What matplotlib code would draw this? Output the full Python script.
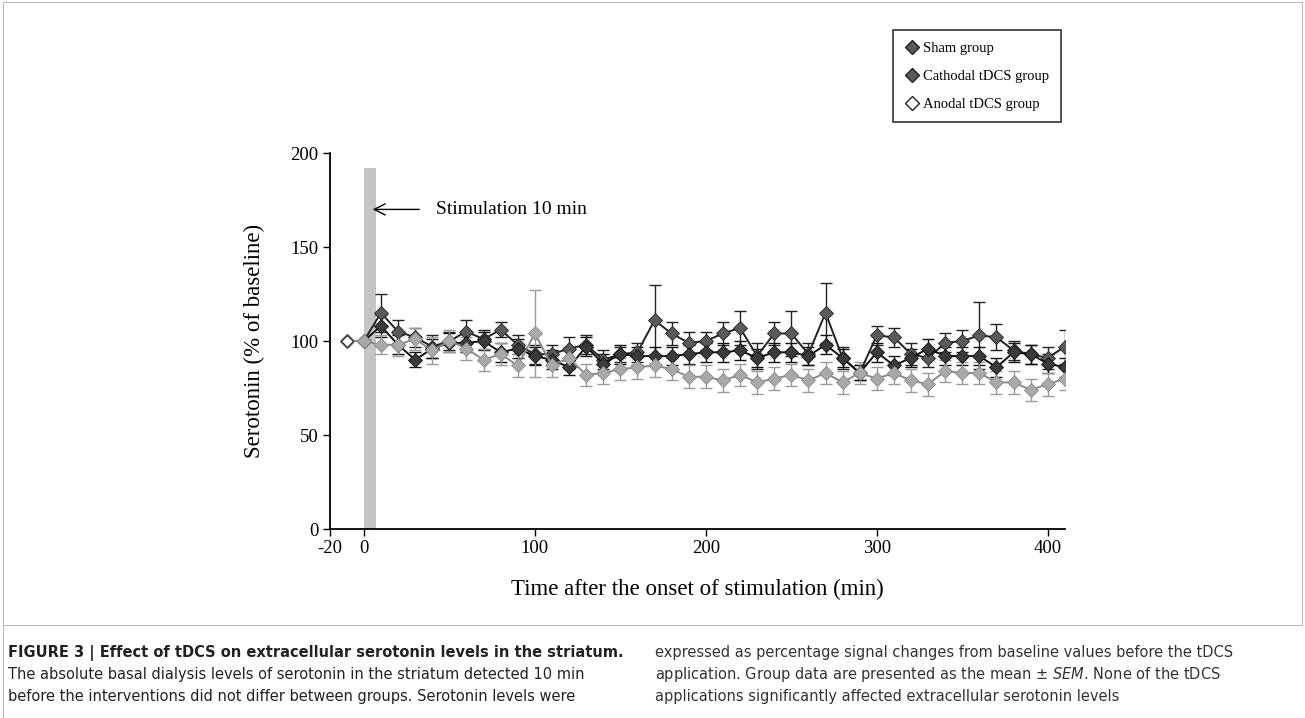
import matplotlib
matplotlib.use("Agg")
import matplotlib.pyplot as plt
from matplotlib.lines import Line2D

plt.rcParams["axes.unicode_minus"] = False

# ---------------- data ----------------
time_min = [-10, 0, 10, 20, 30, 40, 50, 60, 70, 80, 90, 100, 110, 120, 130, 140, 150,
            160, 170, 180, 190, 200, 210, 220, 230, 240, 250, 260, 270, 280, 290, 300,
            310, 320, 330, 340, 350, 360, 370, 380, 390, 400, 410]

sham = [100, 100, 115, 105, 102, 97, 100, 105, 101, 106, 98, 93, 93, 96, 98, 90, 93,
        94, 111, 104, 99, 100, 104, 107, 92, 104, 104, 93, 115, 91, 83, 103,
        102, 93, 91, 99, 100, 103, 102, 95, 93, 91, 97]
sham_sem = [0, 0, 10, 6, 5, 6, 5, 6, 5, 4, 5, 5, 5, 6, 5, 5, 4,
            5, 19, 6, 6, 5, 6, 9, 7, 6, 12, 6, 16, 6, 4, 5,
            5, 6, 5, 5, 6, 18, 7, 5, 5, 6, 9]

cathodal = [100, 100, 108, 98, 90, 96, 99, 99, 100, 94, 96, 92, 90, 86, 97, 88, 93,
            92, 92, 92, 93, 94, 94, 95, 91, 94, 94, 92, 98, 91, 83, 94,
            87, 91, 96, 92, 92, 92, 86, 94, 93, 88, 86]
cathodal_sem = [0, 0, 6, 5, 4, 5, 5, 5, 5, 5, 5, 5, 5, 4, 5, 5, 5,
                5, 5, 5, 5, 5, 5, 5, 5, 5, 5, 5, 5, 5, 4, 5,
                5, 5, 5, 5, 5, 5, 5, 5, 5, 5, 5]

anodal = [100, 100, 98, 98, 101, 95, 100, 96, 90, 93, 87, 104, 87, 91, 82, 83, 85,
          86, 87, 85, 81, 81, 79, 82, 78, 80, 82, 79, 83, 78, 83, 80,
          83, 79, 77, 84, 83, 83, 78, 78, 74, 77, 80]
anodal_sem = [0, 0, 5, 6, 6, 7, 6, 6, 6, 6, 6, 23, 6, 6, 6, 6, 6,
              6, 6, 6, 6, 6, 6, 6, 6, 6, 6, 6, 6, 6, 6, 6,
              6, 6, 6, 6, 6, 6, 6, 6, 6, 6, 6]

series_labels = ["Sham group", "Cathodal tDCS group", "Anodal tDCS group"]
x_ticks = [-20, 0, 100, 200, 300, 400]
y_ticks = [0, 50, 100, 150, 200]

stim_start, stim_end, stim_top = 0, 7, 192
stim_text = "Stimulation 10 min"

caption_left = [
    "FIGURE 3 | Effect of tDCS on extracellular serotonin levels in the striatum.",
    "The absolute basal dialysis levels of serotonin in the striatum detected 10 min",
    "before the interventions did not differ between groups. Serotonin levels were",
]
caption_right = [
    "expressed as percentage signal changes from baseline values before the tDCS",
    "application. Group data are presented as the mean \u00b1 $\\it{SEM}$. None of the tDCS",
    "applications significantly affected extracellular serotonin levels",
]

# ---------------- figure ----------------
serif = ["Liberation Serif", "DejaVu Serif"]
fig = plt.figure(figsize=(13.05, 7.18), dpi=100)
ax = fig.add_axes([0.2526, 0.2632, 0.8160 - 0.2526, 0.7869 - 0.2632])

ax.bar((stim_start + stim_end) / 2, stim_top, width=stim_end - stim_start,
       color="#c4c4c4", edgecolor="none", zorder=1)

styles = [
    (sham, sham_sem, "#5a5a5a", "#222222", "#222222"),
    (cathodal, cathodal_sem, "#3a3a3a", "#111111", "#111111"),
    (anodal, anodal_sem, "#a9a9a9", "#8a8a8a", "#9a9a9a"),
]
for vals, sem, fc, lc, ec in styles:
    ax.errorbar(time_min, vals, yerr=sem, fmt="none", ecolor=ec, elinewidth=1.0,
                capsize=4.5, capthick=1.0, zorder=2)
    ax.plot(time_min, vals, "-", color=lc, lw=1.4, marker="D", markersize=7,
            markerfacecolor=fc, markeredgecolor=lc, markeredgewidth=0.6, zorder=3)
# the first (baseline) point is drawn as an open diamond
ax.plot(time_min[0], anodal[0], marker="D", markersize=6.5, markerfacecolor="white",
        markeredgecolor="#222222", markeredgewidth=0.8, zorder=4)

ax.annotate("", xy=(3.5, 170), xytext=(34, 170),
            arrowprops=dict(arrowstyle="->", color="black", lw=1.0,
                            mutation_scale=20), zorder=5)
ax.text(42, 170, stim_text, fontsize=14, family=serif, va="center", ha="left")

ax.set_xlim(-20, 410)
ax.set_ylim(0, 200)
ax.set_xticks(x_ticks)
ax.set_yticks(y_ticks)
ax.tick_params(labelsize=13.5, length=5, width=1.0, direction="out", pad=3)
for lab in ax.get_xticklabels() + ax.get_yticklabels():
    lab.set_family(serif)
ax.spines["top"].set_visible(False)
ax.spines["right"].set_visible(False)
ax.spines["left"].set_linewidth(1.3)
ax.spines["bottom"].set_linewidth(1.3)
ax.set_ylabel("Serotonin (% of baseline)", fontsize=16.5, family=serif, labelpad=18)
ax.set_xlabel("Time after the onset of stimulation (min)", fontsize=16.5,
              family=serif, labelpad=16)

# legend
handles = [
    Line2D([], [], ls="none", marker="D", markersize=7, markerfacecolor="#5a5a5a",
           markeredgecolor="#222222"),
    Line2D([], [], ls="none", marker="D", markersize=7, markerfacecolor="#5a5a5a",
           markeredgecolor="#222222"),
    Line2D([], [], ls="none", marker="D", markersize=7, markerfacecolor="white",
           markeredgecolor="#222222"),
]
leg = fig.legend(handles, series_labels, loc="upper left",
                 bbox_to_anchor=(0.684, 0.958), frameon=True, fancybox=False,
                 edgecolor="black", prop={"family": serif, "size": 10.5},
                 handletextpad=0.3, labelspacing=1.0, borderpad=0.8,
                 handlelength=1.0, borderaxespad=0)
leg.get_frame().set_linewidth(1.2)

# thin frame lines of the page
fig.add_artist(Line2D([0.002, 0.002], [0.0, 0.997], color="#bbbbbb", lw=0.8))
fig.add_artist(Line2D([0.002, 0.998], [0.997, 0.997], color="#bbbbbb", lw=0.8))
fig.add_artist(Line2D([0.998, 0.998], [0.13, 0.997], color="#bbbbbb", lw=0.8))
fig.add_artist(Line2D([0.002, 0.998], [0.13, 0.13], color="#bbbbbb", lw=0.8))

# caption
cap_font = ["DejaVu Sans"]
ys = [1 - 653 / 718, 1 - 675 / 718, 1 - 697 / 718]
for i, (l, r) in enumerate(zip(caption_left, caption_right)):
    fig.text(8 / 1305, ys[i], l, fontsize=10.5, family=cap_font, color="#222222",
             va="center", ha="left", weight="bold" if i == 0 else "normal")
    fig.text(655 / 1305, ys[i], r, fontsize=10.5, family=cap_font, color="#333333",
             va="center", ha="left")

fig.savefig("out.png", dpi=100)
